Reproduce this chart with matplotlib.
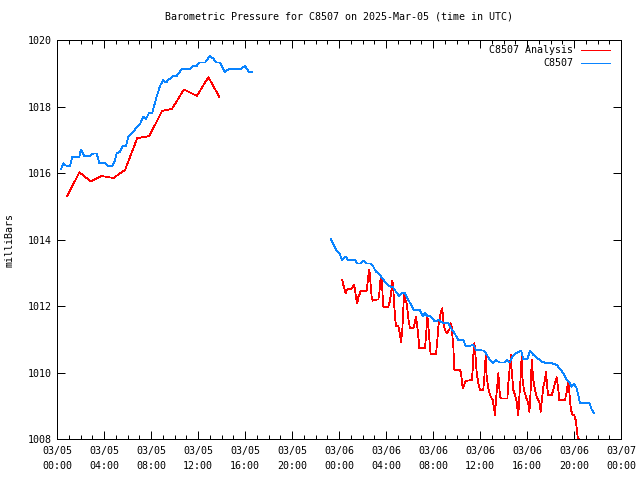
import numpy as np
import matplotlib
matplotlib.use('Agg')
import matplotlib.pyplot as plt
from matplotlib.ticker import MultipleLocator

plt.rcParams['font.family'] = ['DejaVu Sans Mono']
FONT_SIZE = 7.2
LW = 0.72       # one pixel at 100 dpi, frame and ticks
DATA_LW = 0.55  # aliased data lines, keeps them one pixel wide

# hours since 2025-03-05 00:00 UTC
obs_hours_1 = [0.34, 0.54, 0.82, 1.11, 1.30, 1.90, 2.04, 2.33, 2.81, 3.09, 3.38, 3.60, 4.09, 4.37,
               4.65, 4.85, 5.08, 5.36, 5.59, 5.87, 6.07, 6.36, 6.78, 7.06, 7.35, 7.57, 7.83, 8.11,
               8.48, 8.77, 9.05, 9.28, 9.48, 9.90, 10.18, 10.61, 11.32, 11.60, 11.89, 12.11, 12.60,
               13.02, 13.30, 13.59, 13.87, 14.30, 14.58, 15.63, 16.00, 16.34, 16.57]
obs_press_1 = [1016.11, 1016.29, 1016.21, 1016.21, 1016.49, 1016.49, 1016.71, 1016.51, 1016.51,
               1016.59, 1016.59, 1016.29, 1016.29, 1016.21, 1016.21, 1016.29, 1016.59, 1016.64,
               1016.81, 1016.81, 1017.09, 1017.19, 1017.37, 1017.47, 1017.69, 1017.62, 1017.80,
               1017.81, 1018.30, 1018.62, 1018.80, 1018.72, 1018.80, 1018.92, 1018.92, 1019.12,
               1019.12, 1019.22, 1019.22, 1019.32, 1019.32, 1019.52, 1019.44, 1019.32, 1019.32,
               1019.03, 1019.12, 1019.12, 1019.22, 1019.03, 1019.03]

obs_hours_2 = [23.32, 23.52, 23.74, 24.03, 24.28, 24.57, 24.79, 25.36, 25.56, 25.85, 26.07, 26.36,
               26.64, 26.92, 27.15, 27.43, 27.63, 27.91, 28.20, 28.43, 28.57, 28.85, 29.11, 29.33,
               29.62, 29.90, 30.19, 30.38, 30.89, 31.12, 31.32, 31.52, 31.74, 32.17, 32.45, 32.88,
               33.30, 33.59, 33.87, 34.15, 34.58, 34.78, 35.15,
               35.43, 35.66, 36.28, 36.51, 36.79, 37.08, 37.36, 37.64, 38.13, 38.32, 38.55, 38.78,
               39.06, 39.49, 39.69, 40.03, 40.26, 40.54, 40.88, 41.25, 41.68, 42.10, 42.53, 42.81,
               43.09, 43.38, 43.60, 43.80, 44.00, 44.23, 44.51, 45.30, 45.50, 45.73]
obs_press_2 = [1014.01, 1013.86, 1013.70, 1013.58, 1013.38, 1013.48, 1013.38, 1013.38, 1013.28,
               1013.28, 1013.36, 1013.28, 1013.28, 1013.18, 1013.03, 1012.96, 1012.86, 1012.73,
               1012.63, 1012.56, 1012.58, 1012.43, 1012.30, 1012.38, 1012.38, 1012.18, 1012.00,
               1011.88, 1011.88, 1011.70, 1011.78, 1011.70, 1011.70, 1011.53, 1011.58, 1011.48,
               1011.48, 1011.30, 1011.16, 1010.98, 1010.98, 1010.80, 1010.80,
               1010.83, 1010.68, 1010.66, 1010.58, 1010.40, 1010.28, 1010.38, 1010.30, 1010.30,
               1010.38, 1010.30, 1010.50, 1010.58, 1010.66, 1010.40, 1010.40, 1010.66, 1010.53,
               1010.43, 1010.33, 1010.28, 1010.28, 1010.23, 1010.10, 1009.98, 1009.77, 1009.72,
               1009.57, 1009.67, 1009.52, 1009.09, 1009.09, 1008.89, 1008.77]

ana_hours_1 = [0.88, 1.90, 2.87, 3.80, 4.80, 5.79, 6.83, 7.86, 8.94, 9.79, 10.80, 11.90, 12.88, 13.80]
ana_press_1 = [1015.31, 1016.02, 1015.75, 1015.91, 1015.85, 1016.09, 1017.05, 1017.11, 1017.87,
               1017.93, 1018.51, 1018.32, 1018.88, 1018.30]

ana_hours_2 = [24.28, 24.37, 24.57, 24.65, 24.79, 25.00, 25.13, 25.28, 25.36, 25.45, 25.56, 25.64,
               25.79, 25.85, 26.36, 26.50, 26.58, 26.70, 26.78, 26.87, 26.98, 27.35, 27.43, 27.55,
               27.63, 27.72, 27.77, 28.20, 28.34, 28.43, 28.54, 28.62, 28.68, 28.77, 28.85, 29.05,
               29.19, 29.28, 29.39, 29.47, 29.53, 29.62, 29.76, 29.90, 30.04, 30.33, 30.47, 30.55,
               30.61, 30.70, 30.84, 31.32, 31.40, 31.52, 31.60, 31.74, 31.80, 32.26, 32.37, 32.45,
               32.60, 32.68, 32.79, 32.88, 33.02, 33.16, 33.39, 33.51, 33.59, 33.73, 33.82, 34.30,
               34.38, 34.53, 34.64, 34.78,
               35.29, 35.38, 35.43, 35.52, 35.60, 35.72, 35.86, 36.00, 36.28, 36.37, 36.48, 36.57,
               36.71, 36.85, 37.08, 37.19, 37.28, 37.36, 37.56, 37.70, 37.85, 38.33, 38.41, 38.55,
               38.64, 38.69, 38.84, 38.98, 39.12, 39.20, 39.26, 39.35, 39.46, 39.55, 39.63, 39.74,
               39.91, 40.11, 40.20, 40.26, 40.34, 40.40, 40.54, 40.68, 40.83, 41.05, 41.17, 41.25,
               41.39, 41.53, 41.62, 41.73, 41.81, 42.10, 42.24, 42.38, 42.53, 42.67, 42.75, 43.23,
               43.38, 43.49, 43.55, 43.66, 43.74, 43.89, 44.03, 44.14, 44.23, 44.31, 44.51]
ana_press_2 = [1012.78, 1012.63, 1012.38, 1012.46, 1012.53, 1012.50, 1012.56, 1012.63, 1012.53,
               1012.23, 1012.08, 1012.28, 1012.38, 1012.46, 1012.46, 1012.93, 1013.10, 1012.63,
               1012.28, 1012.16, 1012.18, 1012.20, 1012.38, 1012.88, 1012.83, 1012.28, 1011.98,
               1011.98, 1012.16, 1012.38, 1012.76, 1012.53, 1012.13, 1011.66, 1011.40, 1011.40,
               1011.13, 1010.90, 1011.28, 1011.88, 1012.33, 1012.23, 1012.08, 1011.63, 1011.33,
               1011.33, 1011.53, 1011.68, 1011.53, 1011.28, 1010.73, 1010.73, 1011.08, 1011.68,
               1011.43, 1010.78, 1010.56, 1010.56, 1010.98, 1011.38, 1011.68, 1011.83, 1011.93,
               1011.50, 1011.28, 1011.18, 1011.28, 1011.48, 1011.38, 1010.78, 1010.08, 1010.08,
               1009.98, 1009.52, 1009.62, 1009.75,
               1009.77, 1010.08, 1010.50, 1010.88, 1010.58, 1009.98, 1009.67, 1009.47, 1009.47,
               1009.87, 1010.50, 1009.87, 1009.52, 1009.32, 1009.17, 1008.92, 1008.72, 1009.17,
               1009.98, 1009.27, 1009.22, 1009.22, 1009.67, 1010.23, 1010.53, 1010.08, 1009.47,
               1009.32, 1009.12, 1008.87, 1008.72, 1009.27, 1009.87, 1010.53, 1009.77, 1009.47,
               1009.27, 1009.07, 1008.82, 1009.07, 1009.72, 1010.38, 1009.77, 1009.47, 1009.27,
               1009.12, 1008.82, 1009.12, 1009.57, 1009.77, 1010.03, 1009.52, 1009.32, 1009.32,
               1009.47, 1009.67, 1009.86, 1009.47, 1009.17, 1009.17, 1009.42, 1009.70, 1009.67,
               1009.17, 1008.87, 1008.72, 1008.72, 1008.57, 1008.32, 1008.07, 1007.95]

tick_hours = list(range(0, 49, 4))
tick_labels = ["03/05\n00:00", "03/05\n04:00", "03/05\n08:00", "03/05\n12:00", "03/05\n16:00",
               "03/05\n20:00", "03/06\n00:00", "03/06\n04:00", "03/06\n08:00", "03/06\n12:00",
               "03/06\n16:00", "03/06\n20:00", "03/07\n00:00"]

RED = '#ff0000'
BLUE = '#0a84ff'

fig = plt.figure(figsize=(6.4, 4.8), dpi=100)
ax = fig.add_axes([57 / 640., 1 - 439 / 480., 564 / 640., 399 / 480.])

ax.plot(ana_hours_1, ana_press_1, color=RED, lw=DATA_LW, antialiased=False)
ax.plot(ana_hours_2, ana_press_2, color=RED, lw=DATA_LW, antialiased=False)
ax.plot(obs_hours_1, obs_press_1, color=BLUE, lw=DATA_LW, antialiased=False)
ax.plot(obs_hours_2, obs_press_2, color=BLUE, lw=DATA_LW, antialiased=False)

ax.set_xlim(0, 48)
ax.set_ylim(1008, 1020)
ax.set_xticks(tick_hours)
ax.set_xticklabels(tick_labels, fontsize=FONT_SIZE, linespacing=1.6)
ax.xaxis.set_minor_locator(MultipleLocator(1))
ax.set_yticks(np.arange(1008, 1021, 2))
ax.set_yticklabels(["%d" % v for v in np.arange(1008, 1021, 2)], fontsize=FONT_SIZE)
ax.tick_params(which='major', direction='in', top=True, right=True, length=6, width=LW)
ax.tick_params(which='minor', direction='in', top=True, right=False, left=False, length=3, width=LW)
ax.tick_params(axis='x', pad=5)
ax.tick_params(axis='y', pad=4)
for s in ax.spines.values():
    s.set_linewidth(LW)

ax.set_title("Barometric Pressure for C8507 on 2025-Mar-05 (time in UTC)", fontsize=FONT_SIZE, pad=15)
fig.text(10 / 640., 0.5, "milliBars", rotation=90, ha='center', va='center', fontsize=FONT_SIZE)

# legend, gnuplot style (text right aligned, sample on the right)
for i, (name, col) in enumerate([("C8507 Analysis", RED), ("C8507", BLUE)]):
    yy = 0.975 - i * 0.032
    ax.text(0.915, yy, name, transform=ax.transAxes, ha='right', va='center', fontsize=FONT_SIZE)
    ax.plot([0.929, 0.981], [yy, yy], transform=ax.transAxes, color=col, lw=DATA_LW, antialiased=False)

fig.savefig("out.png", dpi=100)
